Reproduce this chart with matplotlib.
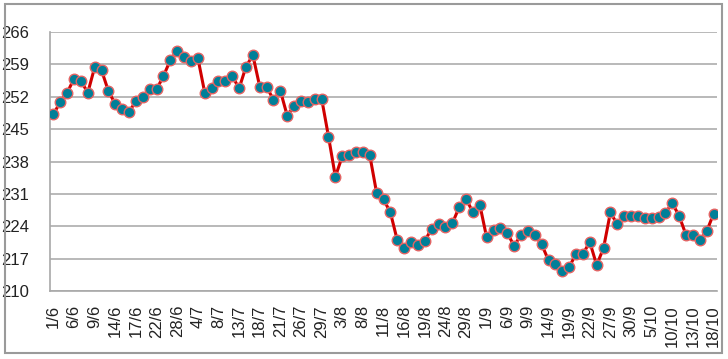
import matplotlib
matplotlib.use("Agg")
import matplotlib.pyplot as plt
from matplotlib.patches import Rectangle

dates = [
    "1/6", "2/6", "3/6", "6/6", "7/6", "8/6", "9/6", "10/6", "13/6", "14/6",
    "15/6", "16/6", "17/6", "20/6", "21/6", "22/6", "24/6", "27/6", "28/6", "29/6",
    "1/7", "4/7", "6/7", "7/7", "8/7", "11/7", "12/7", "13/7", "14/7", "15/7",
    "18/7", "19/7", "20/7", "21/7", "22/7", "25/7", "26/7", "27/7", "28/7", "29/7",
    "1/8", "2/8", "3/8", "4/8", "5/8", "8/8", "9/8", "10/8", "11/8", "12/8",
    "15/8", "16/8", "17/8", "18/8", "19/8", "22/8", "23/8", "24/8", "25/8", "26/8",
    "29/8", "30/8", "31/8", "1/9", "2/9", "5/9", "6/9", "7/9", "8/9", "9/9",
    "12/9", "13/9", "14/9", "15/9", "16/9", "19/9", "20/9", "21/9", "22/9", "23/9",
    "26/9", "27/9", "28/9", "29/9", "30/9", "3/10", "4/10", "5/10", "6/10", "7/10",
    "10/10", "11/10", "12/10", "13/10", "14/10", "17/10", "18/10",
]

values = [
    248.2, 250.9, 252.9, 255.9, 255.4, 252.9, 258.4, 257.7, 253.2, 250.4,
    249.3, 248.8, 251.0, 252.0, 253.6, 253.6, 256.5, 259.9, 262.0, 260.6,
    259.7, 260.4, 252.9, 253.9, 255.4, 255.4, 256.5, 253.8, 258.5, 261.0,
    254.2, 254.2, 251.3, 253.3, 247.9, 250.0, 251.1, 250.8, 251.5, 251.6,
    243.4, 234.7, 239.1, 239.3, 240.0, 240.0, 239.4, 231.2, 229.8, 227.0,
    221.0, 219.3, 220.6, 219.9, 220.8, 223.5, 224.5, 223.9, 224.6, 228.1,
    230.0, 227.0, 228.7, 221.6, 223.1, 223.6, 222.6, 219.7, 222.2, 222.9,
    222.1, 220.1, 216.6, 215.8, 214.4, 215.2, 218.0, 218.0, 220.6, 215.6,
    219.3, 227.0, 224.4, 226.2, 226.2, 226.2, 225.7, 225.8, 226.0, 226.9,
    229.0, 226.2, 222.1, 222.2, 221.0, 222.9, 226.7,
]

y_ticks = [210, 217, 224, 231, 238, 245, 252, 259, 266]

plt.rcParams["font.family"] = ["Liberation Sans", "DejaVu Sans"]

fig = plt.figure(figsize=(7.28, 3.59), dpi=100)
W, H = 728, 359
ax = fig.add_axes([50 / W, 1 - 291 / H, (717 - 50) / W, (291 - 32) / H])

x = list(range(len(values)))
ax.plot(x, values, color="#d00000", linewidth=2.2, zorder=3,
        marker="o", markersize=7.6, markerfacecolor="#007f98",
        markeredgecolor="#e46464", markeredgewidth=1.0)

ax.set_xlim(-0.5, len(values) - 0.5)
ax.set_ylim(210, 266)
ax.set_yticks(y_ticks)
ax.set_yticklabels([str(t) for t in y_ticks])
ax.set_xticks(x[::3])
ax.set_xticklabels(dates[::3], rotation=90, va="top", ha="center")

ax.grid(axis="y", color="#adadad", linewidth=1.2, zorder=0)
ax.set_axisbelow(True)
for s in ["top", "right"]:
    ax.spines[s].set_visible(False)
for s in ["left", "bottom"]:
    ax.spines[s].set_color("#a8a8a8")
    ax.spines[s].set_linewidth(1.2)
ax.tick_params(axis="both", length=0, labelsize=12, colors="#222222")
ax.tick_params(axis="y", pad=15)
ax.tick_params(axis="x", pad=10)

fig.patches.append(Rectangle((4.5 / W, 1 - 352.5 / H), (722 - 4.5) / W, (352.5 - 3.5) / H,
                             transform=fig.transFigure, fill=False,
                             edgecolor="#9a9a9a", linewidth=1.5))

fig.savefig("out.png", dpi=100)
